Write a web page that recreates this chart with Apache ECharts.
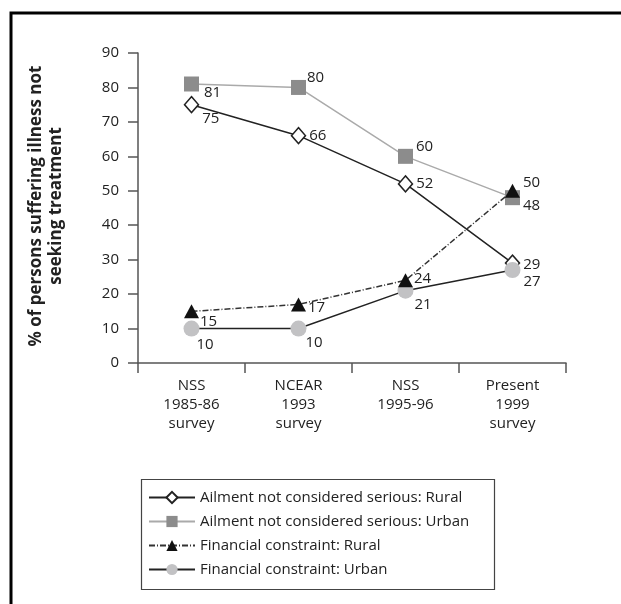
<!DOCTYPE html>
<html>
<head>
<meta charset="utf-8">
<script src="https://cdn.jsdelivr.net/npm/echarts@6/dist/echarts.min.js"></script>
<style>
  html, body { margin: 0; padding: 0; background: #fff; }
  #chart { width: 621px; height: 604px; }
</style>
</head>
<body>
<div id="chart"></div>
<script>
var surveys = ['NSS\n1985-86\nsurvey', 'NCEAR\n1993\nsurvey', 'NSS\n1995-96', 'Present\n1999\nsurvey']
var ailmentRural = [75, 66, 52, 29]
var ailmentUrban = [81, 80, 60, 48]
var financialRural = [15, 17, 24, 50]
var financialUrban = [10, 10, 21, 27]

// where each value label sits relative to its point
var offAR = [[-2, 14], [-2, 0], [-2, 0], [-2, 2]]
var offAU = [[0, 9], [-4, -10], [-2, -10], [-2, 8]]
var offFR = [[-4, 10], [-3, 3], [-4, -2], [-2, -8]]
var offFU = [[-8, 16], [-6, 14], [-4, 14], [-2, 12]]

var font = 'Open Sans'
var txt = '#222'

function withLabels(vals, offs) {
    return vals.map(function (v, i) {
        return {value: v, label: {offset: offs[i]}}
    })
}

var lblBase = {
    show: true,
    position: 'right',
    color: txt,
    fontFamily: font,
    fontSize: 15
}

var option = {
    animation: false,
    backgroundColor: '#fff',
    graphic: [
        {
            type: 'rect',
            shape: {x: 11, y: 13, width: 700, height: 700},
            style: {fill: 'none', stroke: '#000', lineWidth: 3}
        },
        {
            type: 'rect',
            shape: {x: 141.5, y: 479.5, width: 353, height: 110},
            style: {fill: 'none', stroke: '#444', lineWidth: 1.2}
        },
        {
            type: 'text',
            x: 46, y: 206,
            rotation: Math.PI / 2,
            style: {
                text: '% of persons suffering illness not\nseeking treatment',
                fill: txt,
                font: 'bold 17px "Open Sans"',
                align: 'center',
                verticalAlign: 'middle',
                lineHeight: 20
            }
        }
    ],
    grid: {left: 138, right: 55, top: 53, bottom: 241},
    legend: {
        orient: 'vertical',
        left: 143,
        top: 485,
        itemWidth: 46,
        itemHeight: 14,
        itemGap: 9,
        textStyle: {color: txt, fontFamily: font, fontSize: 15},
        data: ['Ailment not considered serious: Rural', 'Ailment not considered serious: Urban',
            'Financial constraint: Rural', 'Financial constraint: Urban']
    },
    xAxis: {
        type: 'category',
        data: surveys,
        boundaryGap: true,
        axisLine: {lineStyle: {color: '#555', width: 1.5}},
        axisTick: {show: true, length: 10, inside: false, lineStyle: {color: '#555', width: 1.5}},
        axisLabel: {color: txt, fontFamily: font, fontSize: 15, lineHeight: 19, margin: 13}
    },
    yAxis: {
        type: 'value',
        min: 0,
        max: 90,
        interval: 10,
        splitLine: {show: false},
        axisLine: {show: true, lineStyle: {color: '#555', width: 1.5}},
        axisTick: {show: true, length: 10, lineStyle: {color: '#555', width: 1.5}},
        axisLabel: {color: txt, fontFamily: font, fontSize: 15, margin: 19}
    },
    series: [
        {
            name: 'Ailment not considered serious: Rural',
            type: 'line',
            data: withLabels(ailmentRural, offAR),
            symbol: 'diamond',
            symbolSize: [14, 16],
            itemStyle: {color: '#fff', borderColor: '#222', borderWidth: 1.5},
            lineStyle: {color: '#222', width: 1.5},
            label: lblBase,
            z: 3
        },
        {
            name: 'Ailment not considered serious: Urban',
            type: 'line',
            data: withLabels(ailmentUrban, offAU),
            symbol: 'rect',
            symbolSize: 15,
            itemStyle: {color: '#8c8c8c', borderWidth: 0},
            lineStyle: {color: '#aaa', width: 1.5},
            label: lblBase,
            z: 2
        },
        {
            name: 'Financial constraint: Rural',
            type: 'line',
            data: withLabels(financialRural, offFR),
            symbol: 'triangle',
            symbolSize: [15, 14],
            itemStyle: {color: '#111', borderWidth: 0},
            lineStyle: {color: '#333', width: 1.5, type: [6, 2, 1, 2]},
            label: lblBase,
            z: 4
        },
        {
            name: 'Financial constraint: Urban',
            type: 'line',
            data: withLabels(financialUrban, offFU),
            symbol: 'circle',
            symbolSize: 16,
            itemStyle: {color: '#c2c2c4', borderWidth: 0},
            lineStyle: {color: '#222', width: 1.5},
            label: lblBase,
            z: 3
        }
    ]
}

var myChart = echarts.init(document.getElementById('chart'))
myChart.setOption(option)
</script>
</body>
</html>
